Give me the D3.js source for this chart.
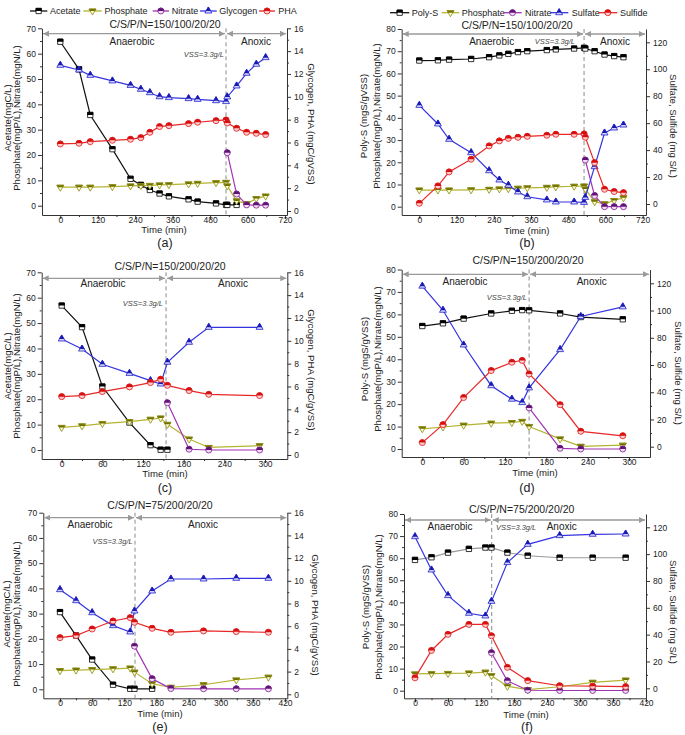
<!DOCTYPE html>
<html><head><meta charset="utf-8">
<script src="https://cdn.jsdelivr.net/npm/d3@7"></script>
<style>
body{margin:0;background:#fff;}
svg{font-family:"Liberation Sans",Arial,Helvetica,sans-serif;}
</style></head><body>
<svg id="chart" width="685" height="735"></svg>
<script>
// ---------------- DATA ----------------
const titleA = "C/S/P/N=150/100/20/20";
const titleC = "C/S/P/N=150/200/20/20";
const titleE = "C/S/P/N=75/200/20/20";

const timeA = [0,60,96,167,225,258,287,318,348,411,440,499,531,535,565,597,628,658];
const acetateA = [64.7,53.8,35.8,22.3,10.6,8.2,6.2,4.8,3.7,2.5,1.6,0.9,0.3,0.3,0.3,null,null,null];
const phosphateA = [7.3,7.3,7.3,7.5,7.8,7.9,8.0,8.2,8.3,8.6,8.8,9.1,9.2,7.8,1.9,0.8,2.8,3.8];
const nitrateA = [null,null,null,null,null,null,null,null,null,null,null,null,null,20.9,4.6,0.3,0.2,0.2];
const glycogenA = [12.76,12.35,11.88,11.39,11.0,10.66,10.36,10.01,9.93,9.84,9.78,9.66,9.58,9.99,10.95,12.06,12.85,13.43];
const phaA = [5.87,5.93,6.07,6.19,6.28,6.42,6.89,7.39,7.47,7.65,7.77,7.91,7.97,7.71,7.24,6.89,6.80,6.69];

const timeB = [0,60,96,167,225,258,287,318,348,411,440,499,531,535,565,597,628,658];
const polySB = [65.8,65.9,66.2,66.5,67.3,68.1,68.8,69.6,70.0,70.5,70.8,71.2,71.5,71.2,70.0,68.5,67.8,67.3];
const phosphateB = [7.5,7.5,7.5,7.6,7.8,8.0,8.1,8.3,8.5,8.7,8.9,9.2,9.3,8.0,2.2,1.3,2.8,4.0];
const nitrateB = [null,null,null,null,null,null,null,null,null,null,null,null,null,21.0,5.0,0,0,0];
const sulfateB = [73.2,59.4,48.0,38.1,24.7,17.8,13.9,8.9,5.4,3.0,1.5,1.5,1.2,4.9,27.7,52.7,56.4,58.6];
const sulfideB = [0.5,13.4,23.8,33.2,43.1,46.8,48.7,49.5,50.2,51.0,51.7,51.7,52.0,49.5,30.7,10.9,9.2,8.4];

const timeC = [0,30,60,100,131,146,156,188,217,292];
const acetateC = [56.9,48.4,25.0,10.8,1.9,0.1,0.1,null,null,null];
const phosphateC = [8.9,9.5,10.4,11.2,12.1,12.6,10.1,4.3,1.0,1.7];
const nitrateC = [null,null,null,null,null,null,18.6,0.3,0,0];
const glycogenC = [10.16,9.28,7.94,7.15,6.51,6.22,8.12,9.87,11.18,11.18];
const phaC = [5.11,5.2,5.55,5.96,6.34,6.63,6.1,5.64,5.31,5.2];

const timeD = [0,30,60,100,130,145,155,200,230,291];
const polySD = [54.8,56.0,58.1,60.4,61.6,61.9,61.8,60.4,58.8,57.8];
const phosphateD = [9.0,9.8,10.6,11.5,11.8,12.3,10.0,4.5,1.2,1.7];
const nitrateD = [null,null,null,null,null,null,18.3,0.3,0,0];
const sulfateD = [117.9,100.2,74.7,44.8,34.9,32.4,43.2,71.3,95.6,102.7];
const sulfideD = [3.0,16.2,36.1,55.9,62.0,63.3,53.4,30.8,11.3,8.0];

const timeE = [0,30,60,99,131,139,172,207,268,329,389];
const acetateE = [30.6,21.3,11.8,1.8,0.2,0.2,0.2,null,null,null,null];
const phosphateE = [7.4,7.6,7.8,8.1,8.4,6.8,2.2,0.8,1.8,3.7,4.8];
const nitrateE = [null,null,null,null,null,17.1,4.2,0.3,0.2,0.2,0.2];
const glycogenE = [9.22,8.25,7.19,6.05,5.49,7.34,9.10,10.16,10.16,10.22,10.22];
const phaE = [4.99,5.17,5.75,6.46,6.75,6.34,5.81,5.46,5.58,5.52,5.46];

const timeF = [0,30,60,98,128,139,168,205,263,323,383];
const polySF = [59.2,60.4,62.5,64.2,64.8,64.8,62.5,61.1,60.2,60.2,60.2];
const phosphateF = [7.6,7.7,7.8,8.0,8.4,6.8,2.0,0.5,1.8,3.8,4.8];
const nitrateF = [null,null,null,null,null,17.2,4.5,0.2,0.1,0.1,0.1];
const sulfateF = [113.0,88.2,69.1,55.9,53.9,64.8,93.7,107.3,113.8,114.8,115.0];
const sulfideF = [7.8,28.2,40.2,47.6,47.6,39.1,15.6,5.7,1.9,1.55,1.2];

const legendLeft = ["Acetate","Phosphate","Nitrate","Glycogen","PHA"];
const legendRight = ["Poly-S","Phosphate","Nitrate","Sulfate","Sulfide"];

const xTicksLong = [0,120,240,360,480,600,720];
const xTicksShort = [0,60,120,180,240,300];
const xTicksMid = [0,60,120,180,240,300,360,420];
const yTicks70 = [0,10,20,30,40,50,60,70];
const yTicks80 = [0,10,20,30,40,50,60,70,80];
const yTicks16 = [0,2,4,6,8,10,12,14,16];
const yTicks120 = [0,20,40,60,80,100,120];

// ---------------- STYLES ----------------
const STYLE = {
  Acetate:{line:"#111",stroke:"#000",dark:"#000",light:"#fff",shape:"square"},
  "Poly-S":{line:"#111",stroke:"#000",dark:"#000",light:"#fff",shape:"square"},
  Phosphate:{line:"#b4b432",stroke:"#8c8c14",dark:"#6e6e00",light:"#fbfbcc",shape:"down"},
  Nitrate:{line:"#a232b4",stroke:"#7a2090",dark:"#5c1470",light:"#f4dcf8",shape:"circle"},
  Glycogen:{line:"#3434e0",stroke:"#2222c8",dark:"#1818a8",light:"#d4d4ff",shape:"up"},
  Sulfate:{line:"#3434e0",stroke:"#2222c8",dark:"#1818a8",light:"#d4d4ff",shape:"up"},
  PHA:{line:"#e82828",stroke:"#e01818",dark:"#d41010",light:"#ffcccc",shape:"circle"},
  Sulfide:{line:"#e82828",stroke:"#e01818",dark:"#d41010",light:"#ffcccc",shape:"circle"}
};

const panels = [
 {id:"a", title:titleA, time:timeA, kind:"C",
  series:[["Acetate",acetateA,"L"],["Phosphate",phosphateA,"L"],["Nitrate",nitrateA,"L"],["Glycogen",glycogenA,"R"],["PHA",phaA,"R"]]},
 {id:"b", title:titleA, time:timeB, kind:"S",
  series:[["Poly-S",polySB,"L"],["Phosphate",phosphateB,"L"],["Nitrate",nitrateB,"L"],["Sulfate",sulfateB,"R"],["Sulfide",sulfideB,"R"]]},
 {id:"c", title:titleC, time:timeC, kind:"C",
  series:[["Acetate",acetateC,"L"],["Phosphate",phosphateC,"L"],["Nitrate",nitrateC,"L"],["Glycogen",glycogenC,"R"],["PHA",phaC,"R"]]},
 {id:"d", title:titleC, time:timeD, kind:"S",
  series:[["Poly-S",polySD,"L"],["Phosphate",phosphateD,"L"],["Nitrate",nitrateD,"L"],["Sulfate",sulfateD,"R"],["Sulfide",sulfideD,"R"]]},
 {id:"e", title:titleE, time:timeE, kind:"C",
  series:[["Acetate",acetateE,"L"],["Phosphate",phosphateE,"L"],["Nitrate",nitrateE,"L"],["Glycogen",glycogenE,"R"],["PHA",phaE,"R"]]},
 {id:"f", title:titleE, time:timeF, kind:"S", polyGray:true,
  series:[["Poly-S",polySF,"L"],["Phosphate",phosphateF,"L"],["Nitrate",nitrateF,"L"],["Sulfate",sulfateF,"R"],["Sulfide",sulfideF,"R"]]}
];

// ---------------- LAYOUT ----------------
const LAYOUT = {
 a:{left:42,right:287,top:28.3,bottom:215,x0:60.3,xEnd:285,xEndVal:720,xTicks:xTicksLong,
    yL0:205.7,yLTop:28.3,yR0:211,yRTop:28.3,
    titleXY:[165,27.5],arrowY:33.7,phaseY:45,anaer:132,anox:256,vss:[224,57,"end"],dash:531,
    yLab1:[7.5,118],yLab2:[17,118],yRLab:[311.5,124],xLab:[164,233],letter:[165,246.5]},
 b:{left:401.7,right:646,top:29,bottom:215,x0:419.3,xEnd:642.7,xEndVal:720,xTicks:xTicksLong,
    yL0:206.7,yLTop:29,yR0:204,yRTop:42.3,
    titleXY:[517,28.5],arrowY:34,phaseY:44.5,anaer:491.7,anox:615,vss:[575,44,"end"],dash:531,
    yLab1:[363.5,116],yLab2:[376.5,116],yRLab:[673,126],xLab:[526.7,233.5],letter:[527,247]},
 c:{left:41.7,right:287.3,top:272.3,bottom:459,x0:61.7,xEnd:265,xEndVal:300,xTicks:xTicksShort,
    yL0:450,yLTop:272.3,yR0:455,yRTop:272.3,
    titleXY:[170,269.5],arrowY:278.3,phaseY:287,anaer:103,anox:233,vss:[163,305.5,"end"],dash:154,
    yLab1:[7.5,366],yLab2:[17,366],yRLab:[311.5,370],xLab:[165,477],letter:[165,491.5]},
 d:{left:401.7,right:650,top:269.5,bottom:457,x0:422.3,xEnd:629,xEndVal:300,xTicks:xTicksShort,
    yL0:449,yLTop:269.5,yR0:446.7,yRTop:283.3,
    titleXY:[528,264],arrowY:274.3,phaseY:285,anaer:465,anox:591.7,vss:[527,299.5,"end"],dash:155,
    yLab1:[365,359],yLab2:[377.5,359],yRLab:[678,373],xLab:[535,476],letter:[527,491.5]},
 e:{left:43.3,right:287.3,top:512.7,bottom:698.3,x0:60,xEnd:285,xEndVal:420,xTicks:xTicksMid,
    yL0:689.3,yLTop:512.7,yR0:694.3,yRTop:512.7,
    titleXY:[160,509],arrowY:517.7,phaseY:528,anaer:90,anox:203,vss:[132.7,544,"end"],dash:140,
    yLab1:[7,614],yLab2:[16.5,614],yRLab:[315,615],xLab:[160,716.5],letter:[160,731]},
 f:{left:404,right:646,top:514,bottom:698.3,x0:415,xEnd:646,xEndVal:420,xTicks:xTicksMid,
    yL0:690.7,yLTop:514,yR0:688.3,yRTop:527.3,
    titleXY:[521.7,512.5],arrowY:520,phaseY:530,anaer:450,anox:561.7,vss:[496,529.5,"start"],dash:139.5,
    yLab1:[366,607],yLab2:[378.5,607],yRLab:[673.3,612],xLab:[526,718],letter:[527,731]}
};

const LEGENDS = [
 {names:legendLeft, y:11, items:[[30,47.3,50],[83.3,101.7,104.5],[152.7,169,171.7],[200,216.7,219.3],[259,275,278.3]]},
 {names:legendRight, y:12.7, items:[[390,409.3,411.7],[441.7,459.3,461.7],[503.3,521.7,525],[550,568.3,571.7],[598.3,617.3,620]]}
];

// ---------------- DRAW ----------------
const svg = d3.select("#chart");
const defs = svg.append("defs");
defs.append("clipPath").attr("id","tophalf").attr("clipPathUnits","userSpaceOnUse")
  .append("rect").attr("x",-10).attr("y",-10).attr("width",20).attr("height",10);
defs.append("marker").attr("id","arr").attr("markerUnits","userSpaceOnUse")
  .attr("markerWidth",7).attr("markerHeight",6).attr("refX",6).attr("refY",3)
  .attr("orient","auto-start-reverse")
  .append("path").attr("d","M0,0 L6,3 L0,6 Z").attr("fill","#9a9a9a");

function symPath(shape){
  if(shape==="square") return d3.symbol(d3.symbolSquare,28)();
  if(shape==="circle") return d3.symbol(d3.symbolCircle,28)();
  return d3.symbol(d3.symbolTriangle,21)();
}
function drawMarker(g, x, y, st){
  const m = g.append("g").attr("transform",`translate(${x},${y})`);
  const rot = st.shape==="down" ? "rotate(180)" : null;
  m.append("path").attr("d",symPath(st.shape)).attr("transform",rot)
    .attr("fill",st.light).attr("stroke",st.stroke).attr("stroke-width",0.8);
  m.append("g").attr("clip-path","url(#tophalf)")
    .append("path").attr("d",symPath(st.shape)).attr("transform",rot)
    .attr("fill",st.dark).attr("stroke",st.stroke).attr("stroke-width",0.8);
}
function linScale(v0,p0,v1,p1,pmin,pmax){
  const s = d3.scaleLinear().domain([v0,v1]).range([p0,p1]);
  return d3.scaleLinear().domain([s.invert(pmin), s.invert(pmax)]).range([pmin,pmax]);
}
function minorOf(ticks){
  const out=[]; for(let i=0;i<ticks.length-1;i++) out.push((ticks[i]+ticks[i+1])/2); return out;
}
function styleAxis(sel){
  sel.select(".domain").attr("stroke","#333").attr("stroke-width",1);
  sel.selectAll(".tick line").attr("stroke","#333");
  sel.selectAll(".tick text").attr("fill","#222").attr("font-size","8.5px")
    .attr("font-family",'"Liberation Sans",Arial,sans-serif');
}

panels.forEach(p=>{
  const L = LAYOUT[p.id];
  const g = svg.append("g");
  const isC = p.kind==="C";
  const yLMax = isC ? 70 : 80;
  const yRMax = isC ? 16 : 120;
  const yLT = isC ? yTicks70 : yTicks80;
  const yRT = isC ? yTicks16 : yTicks120;
  const x = linScale(0,L.x0,L.xEndVal,L.xEnd,L.left,L.right);
  const yL = linScale(0,L.yL0,yLMax,L.yLTop,L.bottom,L.top);
  const yR = linScale(0,L.yR0,yRMax,L.yRTop,L.bottom,L.top);

  // axes
  const ax = g.append("g").attr("transform",`translate(0,${L.bottom})`)
    .call(d3.axisBottom(x).tickValues(L.xTicks).tickSize(4).tickSizeOuter(0).tickPadding(2));
  styleAxis(ax);
  ax.selectAll(".tick text").attr("y",3).attr("dy","0.6em");
  const axm = g.append("g").attr("transform",`translate(0,${L.bottom})`)
    .call(d3.axisBottom(x).tickValues(minorOf(L.xTicks)).tickSize(2).tickSizeOuter(0).tickFormat(""));
  axm.select(".domain").remove(); axm.selectAll(".tick line").attr("stroke","#333");

  const ayl = g.append("g").attr("transform",`translate(${L.left},0)`)
    .call(d3.axisLeft(yL).tickValues(yLT).tickSize(4).tickSizeOuter(0).tickPadding(2));
  styleAxis(ayl);
  const aylm = g.append("g").attr("transform",`translate(${L.left},0)`)
    .call(d3.axisLeft(yL).tickValues(minorOf(yLT)).tickSize(2).tickSizeOuter(0).tickFormat(""));
  aylm.select(".domain").remove(); aylm.selectAll(".tick line").attr("stroke","#333");

  const ayr = g.append("g").attr("transform",`translate(${L.right},0)`)
    .call(d3.axisRight(yR).tickValues(yRT).tickSize(4).tickSizeOuter(0).tickPadding(3));
  styleAxis(ayr);
  const ayrm = g.append("g").attr("transform",`translate(${L.right},0)`)
    .call(d3.axisRight(yR).tickValues(minorOf(yRT)).tickSize(2).tickSizeOuter(0).tickFormat(""));
  ayrm.select(".domain").remove(); ayrm.selectAll(".tick line").attr("stroke","#333");

  // phase arrows + dashed line
  const xd = x(L.dash);
  g.append("line").attr("x1",L.left+1).attr("x2",xd-1).attr("y1",L.arrowY).attr("y2",L.arrowY)
    .attr("stroke","#9a9a9a").attr("stroke-width",1.3)
    .attr("marker-start","url(#arr)").attr("marker-end","url(#arr)");
  g.append("line").attr("x1",xd+1).attr("x2",L.right-1).attr("y1",L.arrowY).attr("y2",L.arrowY)
    .attr("stroke","#9a9a9a").attr("stroke-width",1.3)
    .attr("marker-start","url(#arr)").attr("marker-end","url(#arr)");
  g.append("line").attr("x1",xd).attr("x2",xd).attr("y1",L.top).attr("y2",L.bottom)
    .attr("stroke","#8a8a8a").attr("stroke-width",1).attr("stroke-dasharray","4,3");

  // texts
  g.append("text").attr("x",L.titleXY[0]).attr("y",L.titleXY[1]).attr("text-anchor","middle")
    .attr("font-size","10.5px").attr("fill","#222").text(p.title);
  g.append("text").attr("x",L.anaer).attr("y",L.phaseY).attr("text-anchor","middle")
    .attr("font-size","10px").attr("fill","#222").text("Anaerobic");
  g.append("text").attr("x",L.anox).attr("y",L.phaseY).attr("text-anchor","middle")
    .attr("font-size","10px").attr("fill","#222").text("Anoxic");
  g.append("text").attr("x",L.vss[0]).attr("y",L.vss[1]).attr("text-anchor",L.vss[2])
    .attr("font-size","7.5px").attr("font-style","italic").attr("fill","#444").text("VSS=3.3g/L");

  const lab1 = isC ? "Acetate(mgC/L)" : "Poly-S (mgS/gVSS)";
  const lab2 = "Phosphate(mgP/L),Nitrate(mgN/L)";
  const labR = isC ? "Glycogen, PHA (mgC/gVSS)" : "Sulfate, Sulfide (mg S/L)";
  [[lab1,L.yLab1],[lab2,L.yLab2]].forEach(([t,pos])=>{
    g.append("text").attr("transform",`translate(${pos[0]},${pos[1]}) rotate(-90)`)
      .attr("text-anchor","middle").attr("dy","0.35em").attr("font-size","9.6px").attr("fill","#222").text(t);
  });
  g.append("text").attr("transform",`translate(${L.yRLab[0]},${L.yRLab[1]}) rotate(90)`)
    .attr("text-anchor","middle").attr("dy","0.35em").attr("font-size","9.6px").attr("fill","#222").text(labR);
  g.append("text").attr("x",L.xLab[0]).attr("y",L.xLab[1]).attr("text-anchor","middle")
    .attr("font-size","9.6px").attr("fill","#222").text("Time (min)");
  g.append("text").attr("x",L.letter[0]).attr("y",L.letter[1]).attr("text-anchor","middle")
    .attr("font-size","12.5px").attr("fill","#222").text(`(${p.id})`);

  // series
  p.series.forEach(([name,vals,axis])=>{
    const st = STYLE[name];
    const ys = axis==="L" ? yL : yR;
    const pts = p.time.map((t,i)=>({t,v:vals[i]})).filter(d=>d.v!==null && d.v!==undefined);
    const lineColor = (p.polyGray && name==="Poly-S") ? "#9a9a9a" : st.line;
    g.append("path").datum(pts)
      .attr("d",d3.line().x(d=>x(d.t)).y(d=>ys(d.v)))
      .attr("fill","none").attr("stroke",lineColor).attr("stroke-width",1.2);
    pts.forEach(d=>drawMarker(g,x(d.t),ys(d.v),st));
  });
});

// legends
LEGENDS.forEach(lg=>{
  lg.names.forEach((n,i)=>{
    const [s0,s1,tx] = lg.items[i];
    const st = STYLE[n];
    svg.append("line").attr("x1",s0).attr("x2",s1).attr("y1",lg.y).attr("y2",lg.y)
      .attr("stroke",st.line).attr("stroke-width",1.3);
    drawMarker(svg,(s0+s1)/2,lg.y,st);
    svg.append("text").attr("x",tx).attr("y",lg.y).attr("dy","0.35em")
      .attr("font-size","9px").attr("fill","#222").text(n);
  });
});
</script></body></html>
